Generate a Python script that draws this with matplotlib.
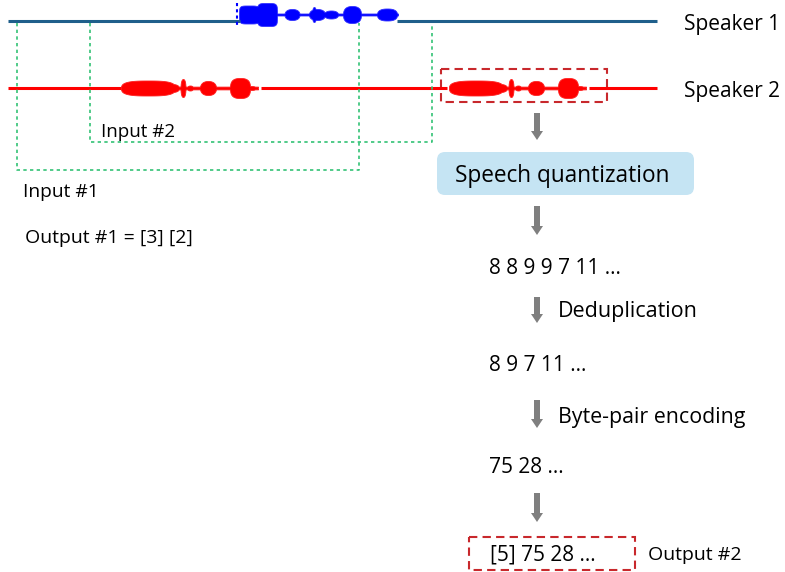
import matplotlib.pyplot as plt
import numpy as np
from matplotlib import patches

plt.rcParams['font.family'] = ['Open Sans', 'DejaVu Sans']

# speaker tracks: (x start, x end, y)
spk1_segments = [(8, 240), (397, 657)]
spk2_segments = [(8, 121), (261, 447), (589, 657)]
spk1_y = 21
spk2_y = 88

# waveform blobs: (centre x, half width, half height, roundness), drawn around a centre line
blue_wave_span = (239, 398)
blue_wave_y = 14.5
blue_blobs = [(249, 10, 9, 5), (267, 10, 11.5, 5), (292, 7.5, 5.5, 2.3),
              (317, 8, 5.5, 2.3), (314, 2, 7.5, 2.3), (331, 7, 4, 2.3),
              (352, 9, 8.5, 2.5), (387, 10, 6, 2.5)]

red_wave_span = (121, 258)
red_blobs = [(148, 27, 7.5, 3), (172, 7, 4, 2.3), (183, 2.5, 9, 2.3), (190, 3, 2.5, 2.3),
             (208, 8, 7, 2.3), (240, 10, 10, 2.8), (251, 5, 2, 2.3)]
red_wave2_shift = 328

# green input windows: (left x, right x, bottom y)
input_windows = [(17, 359, 170), (90, 432, 142)]

arrows = [(113, 140), (206, 235), (297, 323), (400, 428), (493, 522)]
arrow_x = 537

fig = plt.figure(figsize=(7.85, 5.72), dpi=100)
ax = fig.add_axes([0, 0, 1, 1])
ax.set_xlim(0, 785)
ax.set_ylim(572, 0)
ax.axis('off')


def envelope(xs, blobs, base):
    env = np.full_like(xs, base)
    for cx, w, h, p in blobs:
        d = np.clip(np.abs(xs - cx) / w, 0, 1)
        env = np.maximum(env, h * (1 - d ** p) ** (1 / p))
    return env


for x0, x1 in spk1_segments:
    ax.plot([x0, x1], [spk1_y, spk1_y], color='#1f5f8b', lw=2.2, solid_capstyle='butt')
for x0, x1 in spk2_segments:
    ax.plot([x0, x1], [spk2_y, spk2_y], color='#ff0000', lw=2.2, solid_capstyle='butt')

xs = np.linspace(*blue_wave_span, 800)
env = envelope(xs, blue_blobs, 1.0)
ax.fill_between(xs, blue_wave_y - env, blue_wave_y + env, color='#0000ff', lw=0.6,
                edgecolor='#3030ff')
ax.plot([237, 237], [3, 25], color='#0000ff', lw=1.5, ls=(0, (1.5, 1.5)))

xs = np.linspace(*red_wave_span, 800)
env = envelope(xs, red_blobs, 1.4)
for shift in (0, red_wave2_shift):
    ax.fill_between(xs + shift, spk2_y - env, spk2_y + env, color='#ff0000', lw=0.6,
                    edgecolor='#ff2020')

for left, right, bottom in input_windows:
    ax.plot([left, left, right, right], [spk1_y + 2, bottom, bottom, spk1_y + 2],
            color='#33c275', lw=1.2, ls=(0, (2, 2)))

red_dash = dict(fill=False, edgecolor='#c8282c', lw=1.5, ls=(0, (4, 2.5)))
ax.add_patch(patches.Rectangle((441, 69), 166, 33, **red_dash))
ax.add_patch(patches.Rectangle((469, 537), 166, 33, **red_dash))

ax.add_patch(patches.FancyBboxPatch((437, 152), 257, 43,
                                    boxstyle='round,pad=0,rounding_size=8',
                                    facecolor='#c5e4f3', edgecolor='none'))

for y0, y1 in arrows:
    ax.add_patch(patches.FancyArrow(arrow_x, y0, 0, y1 - y0, width=6, head_width=12,
                                    head_length=9, length_includes_head=True,
                                    color='#7f7f7f', lw=0))

texts = [
    (684, 30, 'Speaker 1', 15),
    (684, 97, 'Speaker 2', 15),
    (101, 137, 'Input #2', 13.5),
    (23, 197, 'Input #1', 13.8),
    (25, 243, 'Output #1 = [3] [2]', 14),
    (455, 182, 'Speech quantization', 16.3),
    (489, 274, '8 8 9 9 7 11 ...', 15),
    (558, 317, 'Deduplication', 15.5),
    (489, 371, '8 9 7 11 ...', 15),
    (558, 423, 'Byte-pair encoding', 15.4),
    (489, 473, '75 28 ...', 15),
    (490, 560, '[5] 75 28 ...', 15),
    (648, 560, 'Output #2', 14),
]
for x, y, s, fs in texts:
    ax.text(x, y, s, fontsize=fs, ha='left', va='baseline', color='black')

fig.savefig('out.png', dpi=100)
